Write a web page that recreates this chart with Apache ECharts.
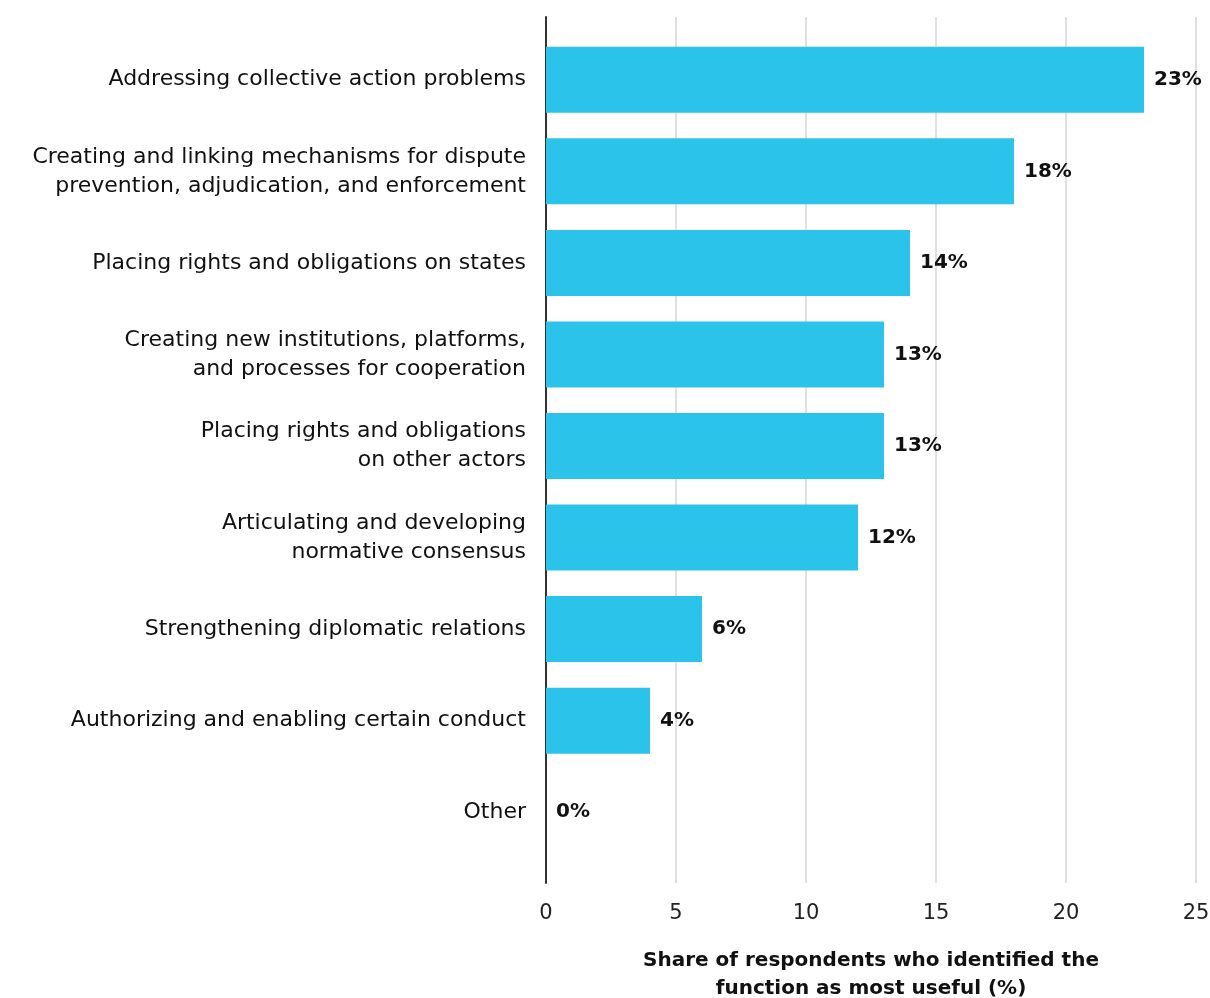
<!DOCTYPE html>
<html>
<head>
<meta charset="utf-8">
<script src="https://cdn.jsdelivr.net/npm/echarts@6/dist/echarts.min.js"></script>
<style>
html, body { margin: 0; padding: 0; background: #fff; }
#chart { width: 1210px; height: 998px; }
</style>
</head>
<body>
<div id="chart"></div>
<script>
var categories = [
    'Addressing collective action problems',
    'Creating and linking mechanisms for dispute\nprevention, adjudication, and enforcement',
    'Placing rights and obligations on states',
    'Creating new institutions, platforms,\nand processes for cooperation',
    'Placing rights and obligations\non other actors',
    'Articulating and developing\nnormative consensus',
    'Strengthening diplomatic relations',
    'Authorizing and enabling certain conduct',
    'Other'
];
var shares = [23, 18, 14, 13, 13, 12, 6, 4, 0];
var xTicks = [0, 5, 10, 15, 20, 25];

var font = 'DejaVu Sans';
var chart = echarts.init(document.getElementById('chart'));

chart.setOption({
    animation: false,
    textStyle: { fontFamily: font },
    grid: [
        // frame: axis line + gridlines
        { left: 546, right: 14, top: 17, bottom: 115, outerBoundsMode: 'none' },
        // bars
        { left: 546, right: 14, top: 34, bottom: 140, outerBoundsMode: 'none' }
    ],
    xAxis: [{
        gridIndex: 0,
        type: 'value',
        min: xTicks[0],
        max: xTicks[xTicks.length - 1],
        interval: 5,
        axisLine: { show: false },
        axisTick: { show: false },
        splitLine: { show: true, lineStyle: { color: '#d6d6d6', width: 1.5 } },
        axisLabel: { fontSize: 21, color: '#222', margin: 20, fontFamily: font },
        name: 'Share of respondents who identified the\nfunction as most useful (%)',
        nameLocation: 'middle',
        nameGap: 64,
        nameTextStyle: {
            fontSize: 20, fontWeight: 'bold', color: '#111', lineHeight: 28, fontFamily: font
        }
    }, {
        gridIndex: 1,
        type: 'value',
        min: 0,
        max: 25,
        show: false
    }],
    yAxis: [{
        gridIndex: 0,
        type: 'value',
        min: 0,
        max: 1,
        axisLine: { show: true, lineStyle: { color: '#333', width: 2 } },
        axisTick: { show: false },
        axisLabel: { show: false },
        splitLine: { show: false }
    }, {
        gridIndex: 1,
        type: 'category',
        inverse: true,
        data: categories,
        axisLine: { show: false },
        axisTick: { show: false },
        axisLabel: {
            fontSize: 22, color: '#111', margin: 20, lineHeight: 29, fontFamily: font
        }
    }],
    series: [{
        type: 'bar',
        xAxisIndex: 1,
        yAxisIndex: 1,
        data: shares,
        barWidth: 66,
        itemStyle: { color: '#2bc3ea' },
        label: {
            show: true,
            position: 'right',
            distance: 10,
            formatter: '{c}%',
            fontSize: 20,
            fontWeight: 'bold',
            color: '#111',
            fontFamily: font
        }
    }]
});
</script>
</body>
</html>
